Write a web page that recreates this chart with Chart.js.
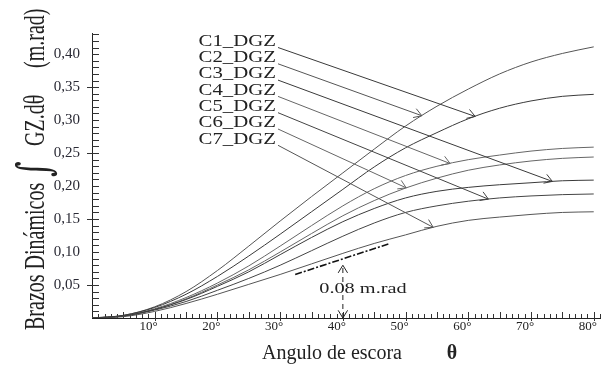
<!DOCTYPE html>
<html>
<head>
<meta charset="utf-8">
<script src="https://cdn.jsdelivr.net/npm/chart.js@4.4.0/dist/chart.umd.min.js"></script>
<style>
  html, body { margin: 0; padding: 0; background: #fff; }
  #grafico { display: block; }
</style>
</head>
<body>
<canvas id="grafico" width="614" height="367"></canvas>
<script>
// Angulos de escora (grados)
const angulos = [0, 5, 10, 15, 20, 25, 30, 35, 40, 45, 50, 55, 60, 65, 70, 75, 80];

// Brazos dinamicos de cada condicion (m.rad)
const c1_dgz = [0, 0.004, 0.016, 0.036, 0.063, 0.094, 0.127, 0.161, 0.195, 0.229, 0.258, 0.281, 0.302, 0.318, 0.329, 0.336, 0.339];
const c2_dgz = [0, 0.004, 0.017, 0.040, 0.072, 0.109, 0.147, 0.184, 0.220, 0.256, 0.291, 0.321, 0.347, 0.370, 0.388, 0.401, 0.411];
const c3_dgz = [0, 0.003, 0.013, 0.028, 0.048, 0.070, 0.096, 0.122, 0.146, 0.166, 0.182, 0.192, 0.198, 0.202, 0.205, 0.208, 0.209];
const c4_dgz = [0, 0.003, 0.014, 0.031, 0.053, 0.079, 0.109, 0.140, 0.170, 0.196, 0.216, 0.230, 0.240, 0.247, 0.253, 0.257, 0.259];
const c5_dgz = [0, 0.003, 0.012, 0.025, 0.042, 0.060, 0.080, 0.102, 0.124, 0.144, 0.160, 0.170, 0.177, 0.182, 0.185, 0.187, 0.188];
const c6_dgz = [0, 0.003, 0.013, 0.029, 0.050, 0.073, 0.100, 0.128, 0.155, 0.178, 0.197, 0.212, 0.224, 0.232, 0.238, 0.242, 0.244];
const c7_dgz = [0, 0.002, 0.010, 0.022, 0.036, 0.051, 0.066, 0.082, 0.098, 0.113, 0.126, 0.139, 0.148, 0.153, 0.157, 0.160, 0.161];

const nombres = ['C1_DGZ', 'C2_DGZ', 'C3_DGZ', 'C4_DGZ', 'C5_DGZ', 'C6_DGZ', 'C7_DGZ'];
const series = [c1_dgz, c2_dgz, c3_dgz, c4_dgz, c5_dgz, c6_dgz, c7_dgz];
// angulo donde la flecha de cada etiqueta toca su curva
const angFlecha = [61.1, 52.6, 73.4, 57.1, 63.2, 50.1, 54.4];

// cota de 0.08 m.rad a 40 grados y la recta punto-raya
const angCota = 40;
const valCota = 0.08;
const rectaAng = [32.4, 47.5];
const rectaVal = [0.066, 0.113];

// etiquetas de los ejes
const ticksX = [10, 20, 30, 40, 50, 60, 70, 80];
const tituloX = 'Angulo de escora';
const tituloY = ['Brazos Dinámicos', '∫', 'GZ.dθ', '(m.rad)'];

const serif = '"Liberation Serif", "Times New Roman", serif';
const colores = ['#3a3a3a', '#555', '#3a3a3a', '#666', '#444', '#666', '#555'];

function valorEn(serie, ang) {
    for (let i = 1; i < angulos.length; i++) {
        if (ang <= angulos[i]) {
            const t = (ang - angulos[i - 1]) / (angulos[i] - angulos[i - 1]);
            return serie[i - 1] + t * (serie[i] - serie[i - 1]);
        }
    }
    return serie[serie.length - 1];
}

function texto(ctx, str, px, py, font, sx, align) {
    ctx.save();
    ctx.font = font;
    ctx.textAlign = align;
    ctx.textBaseline = 'middle';
    ctx.translate(px, py);
    ctx.scale(sx, 1);
    ctx.fillText(str, 0, 0);
    ctx.restore();
}

function flecha(ctx, x0, y0, x1, y1) {
    const ang = Math.atan2(y1 - y0, x1 - x0);
    const L = 9, a = 0.55;
    ctx.beginPath();
    ctx.moveTo(x1 - L * Math.cos(ang - a), y1 - L * Math.sin(ang - a));
    ctx.lineTo(x1, y1);
    ctx.lineTo(x1 - L * Math.cos(ang + a), y1 - L * Math.sin(ang + a));
    ctx.stroke();
}

// marcas menores de los ejes
const marcas = {
    id: 'marcas',
    beforeDatasetsDraw(chart) {
        const { ctx, chartArea: area, scales: { x, y } } = chart;
        ctx.save();
        ctx.strokeStyle = '#333';
        ctx.lineWidth = 1;
        ctx.beginPath();
        for (let i = 1; i <= 43; i++) {
            const py = Math.round(y.getPixelForValue(i / 100)) + 0.5;
            ctx.moveTo(area.left, py);
            ctx.lineTo(area.left + 7, py);
            if (i % 10 === 5) {
                ctx.moveTo(area.left - 5, py);
                ctx.lineTo(area.left, py);
            }
        }
        for (let g = 1; g <= 81; g++) {
            const px = Math.round(x.getPixelForValue(g)) + 0.5;
            const largo = g % 5 === 0 ? 6 : 4;
            ctx.moveTo(px, area.bottom);
            ctx.lineTo(px, area.bottom - largo);
            if (g % 10 === 0) {
                ctx.moveTo(px, area.bottom);
                ctx.lineTo(px, area.bottom + 3);
            }
        }
        ctx.stroke();
        ctx.restore();
    }
};

// etiquetas de las curvas, cota y titulos
const anotaciones = {
    id: 'anotaciones',
    afterDatasetsDraw(chart) {
        const { ctx, scales: { x, y } } = chart;
        ctx.save();
        ctx.fillStyle = '#222';
        ctx.lineWidth = 1;

        nombres.forEach((nombre, i) => {
            const ly = 41.5 + i * 16.3;
            texto(ctx, nombre, 276, ly, '16px ' + serif, 1.3, 'right');
            const x0 = 278, y0 = ly + 6;
            const x1 = x.getPixelForValue(angFlecha[i]);
            const y1 = y.getPixelForValue(valorEn(series[i], angFlecha[i]));
            ctx.strokeStyle = colores[i];
            ctx.beginPath();
            ctx.moveTo(x0, y0);
            ctx.lineTo(x1, y1);
            ctx.stroke();
            flecha(ctx, x0, y0, x1, y1);
        });

        // flechas de la cota
        const cx = x.getPixelForValue(angCota);
        const yTop = y.getPixelForValue(valCota);
        const yBot = y.getPixelForValue(0);
        ctx.strokeStyle = '#222';
        flecha(ctx, cx, yBot, cx, yTop);
        flecha(ctx, cx, yTop, cx, yBot);
        texto(ctx, valCota.toFixed(2) + ' m.rad', x.getPixelForValue(43.2), y.getPixelForValue(0.044), '14px ' + serif, 1.45, 'center');

        // titulo del eje x
        ctx.font = '20px ' + serif;
        ctx.textAlign = 'left';
        ctx.textBaseline = 'alphabetic';
        ctx.fillText(tituloX, 262, 359);
        ctx.font = 'bold 20px ' + serif;
        ctx.textAlign = 'center';
        ctx.fillText('θ', 452, 359);

        // titulo del eje y, rotado
        ctx.translate(44, 330);
        ctx.rotate(-Math.PI / 2);
        ctx.scale(1, 1.5);
        ctx.textAlign = 'left';
        ctx.font = '20px ' + serif;
        ctx.fillText(tituloY[0], 0, 0);
        ctx.font = '30px "DejaVu Serif", serif';
        ctx.fillText(tituloY[1], 153, 3);
        ctx.font = '20px ' + serif;
        ctx.fillText(tituloY[2], 184, 0);
        ctx.fillText(tituloY[3], 262, 0);
        ctx.restore();
    }
};

const datasets = series.map((serie, i) => ({
    label: nombres[i],
    data: angulos.map((a, k) => ({ x: a, y: serie[k] })),
    borderColor: colores[i],
    borderWidth: 1,
    pointRadius: 0,
    cubicInterpolationMode: 'monotone',
    fill: false
}));

datasets.push({
    label: 'recta',
    data: rectaAng.map((a, k) => ({ x: a, y: rectaVal[k] })),
    borderColor: '#111',
    borderWidth: 1.6,
    borderDash: [7, 2, 2, 2],
    pointRadius: 0
});

datasets.push({
    label: 'cota',
    data: [{ x: angCota, y: 0 }, { x: angCota, y: valCota }],
    borderColor: '#222',
    borderWidth: 1,
    borderDash: [5, 4],
    pointRadius: 0
});

new Chart(document.querySelector('#grafico'), {
    type: 'line',
    data: { datasets },
    options: {
        responsive: false,
        animation: false,
        devicePixelRatio: 1,
        layout: { padding: { top: 33, right: 14, left: 0, bottom: 0 } },
        plugins: { legend: { display: false }, tooltip: { enabled: false } },
        scales: {
            x: {
                type: 'linear',
                min: 0,
                max: 81,
                afterFit: s => { s.height = 49; },
                grid: { display: false, drawTicks: false },
                border: { display: true, color: '#222', width: 1 },
                ticks: {
                    includeBounds: false,
                    stepSize: 10,
                    padding: 1,
                    labelOffset: -6,
                    maxRotation: 0,
                    color: '#222',
                    font: { family: serif, size: 13 },
                    callback: v => ticksX.includes(v) ? v + '°' : ''
                }
            },
            y: {
                min: 0,
                max: 0.432,
                afterFit: s => { s.width = 92; },
                grid: { display: false, drawTicks: false },
                border: { display: true, color: '#222', width: 1 },
                ticks: {
                    includeBounds: false,
                    stepSize: 0.05,
                    padding: 12,
                    color: '#2a2a35',
                    font: { family: serif, size: 15 },
                    callback: v => v < 0.01 ? '' : v.toFixed(2).replace('.', ',')
                }
            }
        }
    },
    plugins: [marcas, anotaciones]
});
</script>
</body>
</html>
